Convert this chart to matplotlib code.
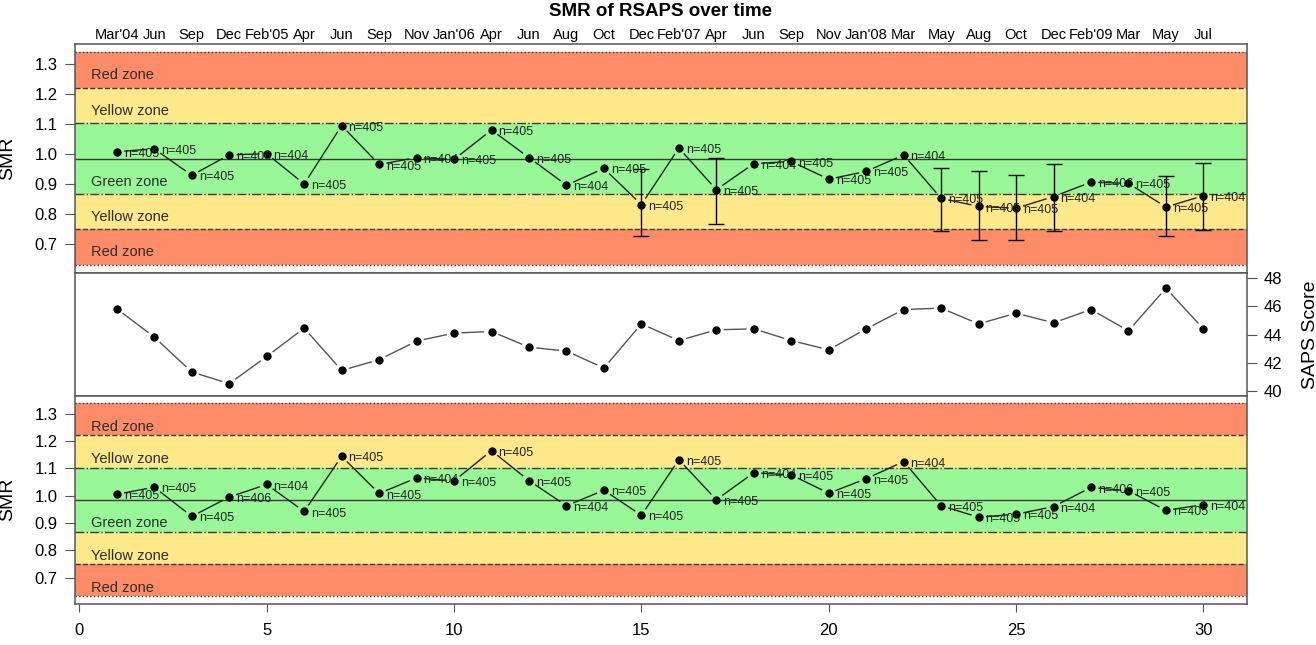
import numpy as np
import matplotlib
matplotlib.use("Agg")
import matplotlib.pyplot as plt

plt.rcParams['font.family'] = ['Liberation Sans', 'DejaVu Sans']

nan = np.nan

# reporting periods (x = 1..30) and the month each one ends in
period = list(range(1, 31))
months = ["Mar'04", "Jun", "Sep", "Dec", "Feb'05", "Apr", "Jun", "Sep", "Nov", "Jan'06",
          "Apr", "Jun", "Aug", "Oct", "Dec", "Feb'07", "Apr", "Jun", "Sep", "Nov",
          "Jan'08", "Mar", "May", "Aug", "Oct", "Dec", "Feb'09", "Mar", "May", "Jul"]

# SMR with the original RSAPS model
smr_top = [1.008, 1.017, 0.929, 0.997, 1.001, 0.900, 1.095, 0.965, 0.988, 0.982,
           1.080, 0.988, 0.896, 0.952, 0.831, 1.020, 0.881, 0.968, 0.975, 0.916,
           0.942, 0.997, 0.852, 0.825, 0.819, 0.858, 0.906, 0.902, 0.823, 0.861]
ci_low_top = [nan, nan, nan, nan, nan, nan, nan, nan, nan, nan,
              nan, nan, nan, nan, 0.728, nan, 0.767, nan, nan, nan,
              nan, nan, 0.744, 0.714, 0.712, 0.742, nan, nan, 0.727, 0.746]
ci_high_top = [nan, nan, nan, nan, nan, nan, nan, nan, nan, nan,
               nan, nan, nan, nan, 0.950, nan, 0.988, nan, nan, nan,
               nan, nan, 0.952, 0.944, 0.929, 0.968, nan, nan, 0.926, 0.970]

# mean SAPS score per period
saps = [45.83, 43.82, 41.35, 40.52, 42.45, 44.46, 41.46, 42.22, 43.54, 44.11,
        44.22, 43.11, 42.83, 41.63, 44.76, 43.58, 44.34, 44.41, 43.58, 42.92,
        44.41, 45.78, 45.88, 44.76, 45.52, 44.84, 45.78, 44.27, 47.29, 44.41]

# SMR after recalibration
smr_bottom = [1.005, 1.031, 0.924, 0.995, 1.041, 0.942, 1.144, 1.008, 1.065, 1.054,
              1.165, 1.055, 0.963, 1.020, 0.928, 1.132, 0.985, 1.084, 1.076, 1.009,
              1.062, 1.125, 0.963, 0.921, 0.932, 0.960, 1.030, 1.018, 0.946, 0.967]

n_cases = [405, 405, 405, 406, 404, 405, 405, 405, 404, 405,
           405, 405, 404, 405, 405, 405, 405, 404, 405, 405,
           405, 404, 405, 405, 405, 404, 406, 405, 405, 404]

# control limits: mean SMR +/- 1, 2, 3 sd
zone_edges = [0.631, 0.749, 0.867, 0.985, 1.103, 1.221, 1.339]
edge_styles = [':', '--', '-.', '-', '-.', '--', ':']
zone_bands = [(0.631, 0.749), (0.749, 0.867), (0.867, 1.103), (1.103, 1.221), (1.221, 1.339)]
zone_names = ["Red zone", "Yellow zone", "Green zone", "Yellow zone", "Red zone"]
zone_colors = ["#FF8C69", "#FFE98A", "#98F898", "#FFE98A", "#FF8C69"]

XLIM = (-0.13, 31.15)
SMR_LIM = (0.603, 1.367)
FRAME = "#555555"


def gapped_line(ax, x, y, gap=8, **kw):
    # like R's type="b": segments stop short of each point
    pts = ax.transData.transform(np.column_stack([x, y]))
    inv = ax.transData.inverted()
    for p, q in zip(pts[:-1], pts[1:]):
        d = q - p
        L = np.hypot(d[0], d[1])
        if L <= 2 * gap:
            continue
        u = d / L
        a, b = inv.transform(np.array([p + u * gap, q - u * gap]))
        ax.plot([a[0], b[0]], [a[1], b[1]], **kw)


def style_frame(ax):
    for s in ax.spines.values():
        s.set_color(FRAME)
        s.set_linewidth(1.1)


def smr_panel(ax, smr, lo=None, hi=None, text_off=0.04):
    ax.set_xlim(*XLIM)
    ax.set_ylim(*SMR_LIM)
    for (a, b), c in zip(zone_bands, zone_colors):
        ax.axhspan(a, b, color=c, lw=0, zorder=0)
    for e, ls in zip(zone_edges, edge_styles):
        ax.axhline(e, color="#3a3a3a", lw=1.0, ls=ls, zorder=1)
    for (a, b), name in zip(zone_bands, zone_names):
        ax.text(0.3, a + text_off, name, ha='left', va='center', fontsize=10.5, color="#2e2e2e")

    gapped_line(ax, period, smr, color="#222222", lw=1.0, zorder=2)
    ax.plot(period, smr, 'o', color='black', ms=5, zorder=4)

    if lo is not None:
        idx = [i for i in range(len(period)) if not np.isnan(lo[i])]
        xs = [period[i] for i in idx]
        ys = np.array([smr[i] for i in idx])
        el = ys - np.array([lo[i] for i in idx])
        eh = np.array([hi[i] for i in idx]) - ys
        ax.errorbar(xs, ys, yerr=[el, eh], fmt='none', ecolor='black',
                    elinewidth=1.0, capsize=5.5, capthick=1.0, zorder=3)

    for x, y, n in zip(period, smr, n_cases):
        ax.annotate(f"n={n}", (x, y), xytext=(5, -1.5), textcoords='offset points',
                    ha='left', va='center', fontsize=9, color="#222222", zorder=5)

    ax.set_yticks([0.7, 0.8, 0.9, 1.0, 1.1, 1.2, 1.3])
    ax.set_yticklabels(["0.7", "0.8", "0.9", "1.0", "1.1", "1.2", "1.3"])
    ax.tick_params(axis='y', length=7, pad=5, labelsize=12, color=FRAME)
    ax.set_ylabel("SMR", fontsize=14)
    ax.yaxis.set_label_coords(-0.05, 0.5)
    style_frame(ax)


fig = plt.figure(figsize=(13.16, 6.45), dpi=100)
W, H = 1316.0, 645.0
left, right = 74.5 / W, 1246.5 / W

ax1 = fig.add_axes([left, (H - 273) / H, right - left, 229 / H])
ax2 = fig.add_axes([left, (H - 395.5) / H, right - left, 122.2 / H])
ax3 = fig.add_axes([left, (H - 604) / H, right - left, 208.5 / H])

# top: SMR with confidence intervals where they leave the green zone
smr_panel(ax1, smr_top, ci_low_top, ci_high_top, text_off=0.041)
ax1.set_xticks(period)
ax1.set_xticklabels(months)
ax1.xaxis.tick_top()
ax1.tick_params(axis='x', length=0, pad=1.5, labelsize=10.5)

# middle: SAPS score
ax2.set_xlim(*XLIM)
ax2.set_ylim(39.68, 48.35)
gapped_line(ax2, period, saps, color="#555555", lw=1.0)
ax2.plot(period, saps, 'o', color='black', ms=5, zorder=3)
ax2.set_xticks([])
ax2.yaxis.tick_right()
ax2.set_yticks([40, 42, 44, 46, 48])
ax2.tick_params(axis='y', length=7, pad=5, labelsize=12, color=FRAME)
ax2.yaxis.set_label_position('right')
ax2.set_ylabel("SAPS Score", fontsize=14)
ax2.yaxis.set_label_coords(1.047, 0.5)
style_frame(ax2)

# bottom: recalibrated SMR
smr_panel(ax3, smr_bottom, text_off=0.031)
ax3.set_xticks([0, 5, 10, 15, 20, 25, 30])
ax3.tick_params(axis='x', length=6, pad=8, labelsize=12, color=FRAME)

fig.text((left + right) / 2, 1 - 12 / H, "SMR of RSAPS over time", ha='center', va='center',
         fontsize=13.5, fontweight='bold')

fig.savefig("out.png", dpi=100)
